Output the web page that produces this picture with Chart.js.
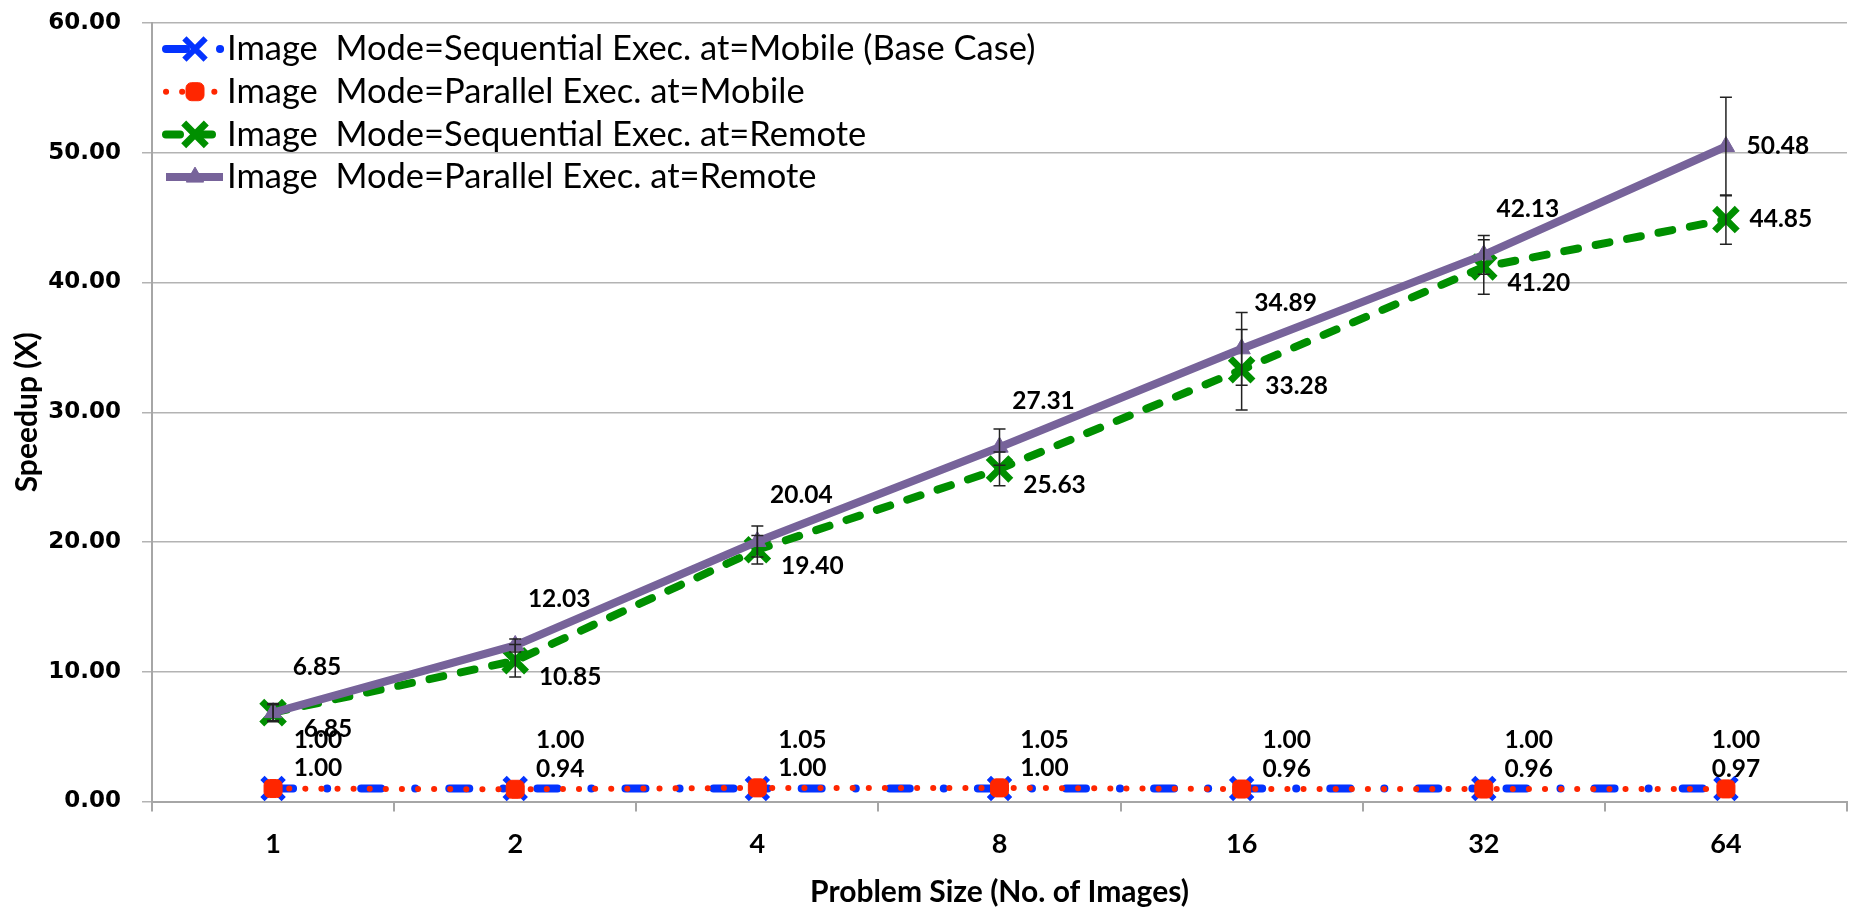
<!DOCTYPE html>
<html>
<head>
<meta charset="utf-8">
<script src="https://cdn.jsdelivr.net/npm/chart.js"></script>
<style>
  html, body { margin: 0; padding: 0; overflow: hidden; background: #fff; }
  #wrap { width: 1870px; height: 907px; position: relative; }
</style>
</head>
<body>
<div id="wrap"><canvas id="speedup-chart" width="1870" height="907"></canvas></div>
<script>
// values
const categories = ['1', '2', '4', '8', '16', '32', '64'];
const yTicks = [0, 10, 20, 30, 40, 50, 60];
const seqMobile = [1.00, 1.00, 1.00, 1.00, 1.00, 1.00, 1.00];
const parMobile = [1.00, 0.94, 1.05, 1.05, 0.96, 0.96, 0.97];
const seqRemote = [6.85, 10.85, 19.40, 25.63, 33.28, 41.20, 44.85];
const parRemote = [6.85, 12.03, 20.04, 27.31, 34.89, 42.13, 50.48];
const seqRemoteErr = [0.6, 1.25, 1.1, 1.3, 3.1, 2.1, 1.9];
const parRemoteErr = [0.7, 0.5, 1.2, 1.4, 2.8, 1.5, 3.8];

const BLUE = '#0433ff';
const RED = '#ff2600';
const GREEN = '#008f00';
const PURPLE = '#77639a';

// error bars for the two remote series
const errorBars = {
    id: 'errorBars',
    afterDatasetsDraw(chart) {
        const ctx = chart.ctx;
        const y = chart.scales.y;
        const sets = [[2, seqRemote, seqRemoteErr], [3, parRemote, parRemoteErr]];
        ctx.save();
        ctx.strokeStyle = '#222';
        ctx.lineWidth = 1.5;
        sets.forEach(([di, vals, errs]) => {
            const meta = chart.getDatasetMeta(di);
            meta.data.forEach((pt, i) => {
                const top = y.getPixelForValue(vals[i] + errs[i]);
                const bot = y.getPixelForValue(vals[i] - errs[i]);
                ctx.beginPath();
                ctx.moveTo(pt.x, top); ctx.lineTo(pt.x, bot);
                ctx.moveTo(pt.x - 6, top); ctx.lineTo(pt.x + 6, top);
                ctx.moveTo(pt.x - 6, bot); ctx.lineTo(pt.x + 6, bot);
                ctx.stroke();
            });
        });
        ctx.restore();
    }
};

// value labels next to the points
const pointLabels = {
    id: 'pointLabels',
    afterDatasetsDraw(chart) {
        const ctx = chart.ctx;
        const last = categories.length - 1;
        ctx.save();
        ctx.font = 'bold 24.5px Lato';
        ctx.fillStyle = '#000';
        ctx.textAlign = 'center';
        ctx.textBaseline = 'middle';
        chart.data.datasets.forEach((ds, di) => {
            const meta = chart.getDatasetMeta(di);
            meta.data.forEach((pt, i) => {
                let dx, dy;
                if (di === 3) {
                    dx = i === last ? 52 : 44;
                    dy = i === last ? 0 : -46;
                } else if (di === 2) {
                    dx = 55;
                    dy = i === last ? 0 : 16;
                } else {
                    const other = di === 0 ? parMobile[i] : seqMobile[i];
                    const upper = ds.data[i] > other || (ds.data[i] === other && di === 0);
                    dx = i === last ? 10 : 45;
                    dy = upper ? -48 : -20;
                }
                ctx.fillText(ds.data[i].toFixed(2), pt.x + dx, pt.y + dy);
            });
        });
        ctx.restore();
    }
};

// legend drawn inside the plot, top left
const insideLegend = {
    id: 'insideLegend',
    afterDraw(chart) {
        const ctx = chart.ctx;
        ctx.save();
        chart.data.datasets.forEach((ds, i) => {
            const y = 49 + i * 42.7;
            ctx.beginPath();
            ctx.setLineDash(ds.borderDash || []);
            ctx.lineCap = ds.borderCapStyle || 'butt';
            ctx.lineWidth = ds.borderWidth;
            ctx.strokeStyle = ds.borderColor;
            ctx.moveTo(166, y);
            ctx.lineTo(223, y);
            ctx.stroke();
            ctx.setLineDash([]);
            ctx.lineCap = 'butt';
            ctx.fillStyle = ds.pointBackgroundColor;
            ctx.strokeStyle = ds.pointBorderColor;
            ctx.lineWidth = ds.pointBorderWidth;
            Chart.helpers.drawPoint(ctx, {
                pointStyle: ds.pointStyle,
                radius: ds.pointRadius,
                borderWidth: ds.pointBorderWidth,
                rotation: 0
            }, 195, y);
            ctx.fillStyle = '#000';
            ctx.font = '34.5px Lato';
            ctx.textAlign = 'left';
            ctx.textBaseline = 'middle';
            ctx.fillText(ds.label, 227, y);
        });
        ctx.restore();
    }
};

const ctx = document.getElementById('speedup-chart').getContext('2d');
const speedupChart = new Chart(ctx, {
    type: 'line',
    data: {
        labels: categories,
        datasets: [
            {
                label: 'Image  Mode=Sequential Exec. at=Mobile (Base Case)',
                data: seqMobile,
                borderColor: BLUE,
                borderWidth: 8,
                borderDash: [20, 34, 0.1, 34],
                borderCapStyle: 'round',
                pointStyle: 'crossRot',
                pointRadius: 15,
                pointBorderWidth: 6,
                pointBorderColor: BLUE,
                pointBackgroundColor: BLUE,
                order: 3
            },
            {
                label: 'Image  Mode=Parallel Exec. at=Mobile',
                data: parMobile,
                borderColor: RED,
                borderWidth: 6,
                borderDash: [0.1, 16],
                borderCapStyle: 'round',
                pointStyle: 'rectRounded',
                pointRadius: 10.5,
                pointBorderWidth: 1,
                pointBorderColor: RED,
                pointBackgroundColor: RED,
                order: 2
            },
            {
                label: 'Image  Mode=Sequential Exec. at=Remote',
                data: seqRemote,
                borderColor: GREEN,
                borderWidth: 8,
                borderDash: [14, 18],
                borderCapStyle: 'round',
                pointStyle: 'crossRot',
                pointRadius: 16,
                pointBorderWidth: 7,
                pointBorderColor: GREEN,
                pointBackgroundColor: GREEN,
                order: 1
            },
            {
                label: 'Image  Mode=Parallel Exec. at=Remote',
                data: parRemote,
                borderColor: PURPLE,
                borderWidth: 8,
                pointStyle: 'triangle',
                pointRadius: 10,
                pointBorderWidth: 1,
                pointBorderColor: PURPLE,
                pointBackgroundColor: PURPLE,
                order: 0
            }
        ]
    },
    options: {
        responsive: false,
        animation: false,
        layout: { padding: { top: 18.5, right: 4, bottom: 0, left: 0 } },
        plugins: {
            legend: { display: false },
            tooltip: { enabled: false }
        },
        scales: {
            x: {
                offset: true,
                grid: {
                    offset: true,
                    drawOnChartArea: false,
                    drawTicks: true,
                    tickLength: 10,
                    color: '#a6a6a6',
                    lineWidth: 2
                },
                border: { color: '#a6a6a6', width: 2 },
                ticks: {
                    color: '#000',
                    padding: 17,
                    font: { family: 'Lato', weight: 'bold', size: 27 }
                },
                title: {
                    display: true,
                    text: 'Problem Size (No. of Images)',
                    color: '#000',
                    font: { family: 'Lato', weight: 'bold', size: 30, lineHeight: 1 },
                    padding: { top: 0, bottom: 0 }
                },
                afterFit(scale) {
                    scale.height = 105.5;
                    scale.paddingLeft = 0;
                    scale.paddingRight = 0;
                }
            },
            y: {
                min: 0,
                max: 60,
                afterBuildTicks(scale) { scale.ticks = yTicks.map(v => ({ value: v })); },
                grid: { color: '#b3b3b3', lineWidth: 1.5, tickLength: 10 },
                border: { color: '#a6a6a6', width: 2 },
                ticks: {
                    color: '#000',
                    padding: 21,
                    font: { family: 'DejaVu Sans', weight: 'bold', size: 23 },
                    callback: v => v.toFixed(2)
                },
                title: {
                    display: true,
                    text: 'Speedup (X)',
                    color: '#000',
                    font: { family: 'Lato', weight: 'bold', size: 30, lineHeight: 1 },
                    padding: { top: 12, bottom: 0 }
                },
                afterFit(scale) {
                    scale.width = 152;
                    scale.paddingTop = 0;
                    scale.paddingBottom = 0;
                }
            }
        }
    },
    plugins: [errorBars, pointLabels, insideLegend]
});
</script>
</body>
</html>
